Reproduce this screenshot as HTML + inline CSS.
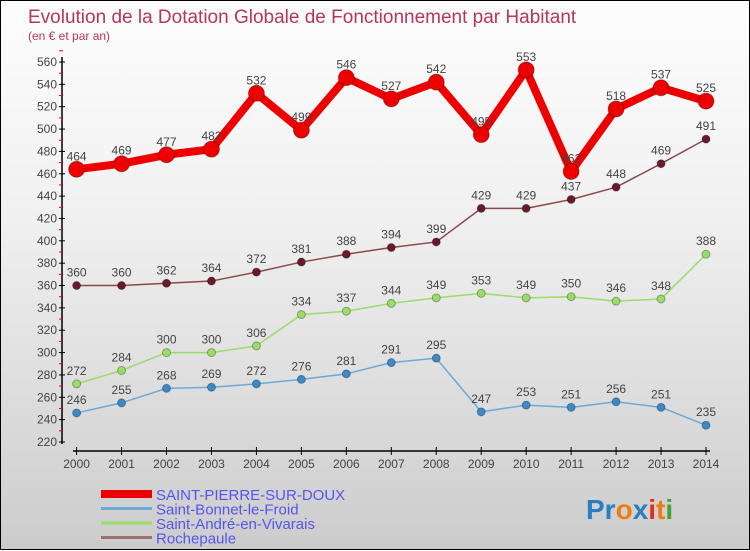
<!DOCTYPE html>
<html><head><meta charset="utf-8"><style>
body{margin:0;width:750px;height:550px;overflow:hidden;font-family:"Liberation Sans",sans-serif}
#c{position:relative;width:748px;height:548px;border:1px solid #000;background:linear-gradient(#fdfdfd,#f0f0f0 40%,#cccccc)}
svg{position:absolute;left:0;top:0}
</style></head><body>
<div id="c">
<svg id="s" width="750" height="550">
<text x="27" y="22" font-size="19" fill="#b5365f">Evolution de la Dotation Globale de Fonctionnement par Habitant</text>
<text x="27" y="39" font-size="12" fill="#b5365f">(en € et par an)</text>
<text x="585" y="518" font-size="28" font-weight="bold"><tspan fill="#2a7fc0">Pr</tspan><tspan fill="#f07c10">o</tspan><tspan fill="#2a7fc0">x</tspan><tspan fill="#e03020">i</tspan><tspan fill="#f07c10">t</tspan><tspan fill="#4aa030">i</tspan></text>
</svg>
</div>
<script>
const years=[2000,2001,2002,2003,2004,2005,2006,2007,2008,2009,2010,2011,2012,2013,2014];
const yTicks=[220,240,260,280,300,320,340,360,380,400,420,440,460,480,500,520,540,560];
const stPierre=[464,469,477,482,532,499,546,527,542,495,553,462,518,537,525];
const stBonnet=[246,255,268,269,272,276,281,291,295,247,253,251,256,251,235];
const stAndre=[272,284,300,300,306,334,337,344,349,353,349,350,346,348,388];
const rochepaule=[360,360,362,364,372,381,388,394,399,429,429,437,448,469,491];
const seriesNames=["SAINT-PIERRE-SUR-DOUX","Saint-Bonnet-le-Froid","Saint-André-en-Vivarais","Rochepaule"];
const NS="http://www.w3.org/2000/svg",s=document.getElementById('s');
const X=i=>75.6+i*(705-75.6)/(years.length-1);
const Y=v=>441-(v-220)*380/340;
function el(t,a,p){const e=document.createElementNS(NS,t);for(const k in a)e.setAttribute(k,a[k]);(p||s).appendChild(e);return e;}
// axes
let ax=el('line',{x1:61,y1:56,x2:61,y2:443,stroke:'#000','stroke-width':1.5});


let bx=el('line',{x1:72,y1:450,x2:709,y2:450,stroke:'#000','stroke-width':1.5});


yTicks.forEach((v,i)=>{
  el('line',{x1:58,x2:64,y1:Y(v),y2:Y(v),stroke:'#000'});
  el('line',{x1:58,x2:62,y1:Y(v+10),y2:Y(v+10),stroke:'#e00'});
  const t=el('text',{x:56,y:Y(v)+4,'font-size':12,fill:'#444','text-anchor':'end'});
  t.textContent=v;
  
  
});
years.forEach((y,i)=>{
  el('line',{x1:X(i),x2:X(i),y1:446,y2:454,stroke:'#000'});
  const t=el('text',{x:X(i),y:467,'font-size':12,fill:'#444','text-anchor':'middle'});
  t.textContent=y;
  
  
});
function series(data,color,dot,w,r,name){
  const g=el('g',{});
  
  
  el('polyline',{points:data.map((v,i)=>X(i)+','+Y(v)).join(' '),fill:'none',stroke:color,'stroke-width':w,'stroke-linejoin':'round'},g);
  data.forEach((v,i)=>{
    const c=el('circle',{cx:X(i),cy:Y(v),r:r,fill:dot,stroke:'rgba(0,0,0,0.3)'},g);
    
    
    const t=el('text',{x:X(i),y:Y(v)-9,'font-size':12,fill:'#444','text-anchor':'middle'},g);
    t.textContent=v;
  });
}
series(stBonnet,'#6aaad8','#3a8ac8',1.5,4,'series-saint-bonnet');
series(stAndre,'#99dd66','#99dd66',1.5,4,'series-saint-andre');
series(rochepaule,'#8a4a4a','#6a1a2a',1.5,4,'series-rochepaule');
series(stPierre,'#ee0000','#ee0000',8,8,'series-saint-pierre');
const lc=['#ee0000','#6aaad8','#99dd66','#9a7070'],lw=[8,3,3,3];
seriesNames.forEach((n,i)=>{
  const yy=493+i*14.5;
  const l=el('line',{x1:100,x2:151,y1:yy,y2:yy,stroke:lc[i],'stroke-width':lw[i]});
  
  
  const t=el('text',{x:155,y:yy+6,'font-size':15,fill:'#5555ee'});
  t.textContent=n;
  
  
});
</script>
</body></html>
